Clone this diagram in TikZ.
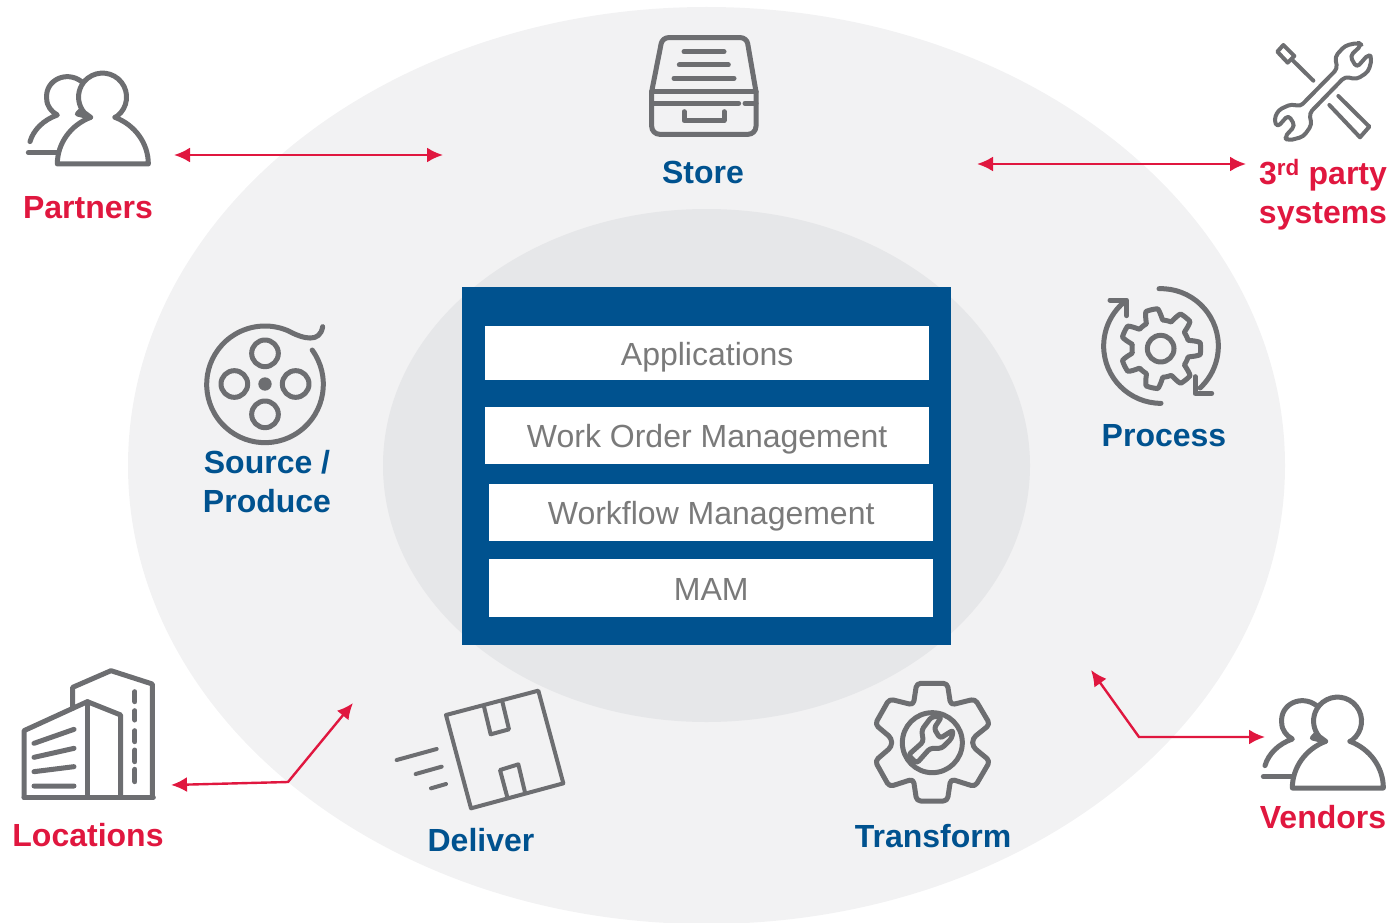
\documentclass[tikz,border=0pt]{standalone}
\usepackage{fontspec}
\setmainfont{Liberation Sans}
\usetikzlibrary{arrows.meta}
\definecolor{outerc}{HTML}{F2F2F3}
\definecolor{innerc}{HTML}{E6E7E9}
\definecolor{bluec}{HTML}{00528F}
\definecolor{redc}{HTML}{E0173F}
\definecolor{iconc}{HTML}{6D6E71}
\definecolor{barc}{HTML}{7A7A7A}
\tikzset{
  zm/.style 2 args={xshift=#1pt,yshift=-#2pt,x=.33333pt,y=-.33333pt},
  icon/.style={draw=iconc,line width=5pt,line cap=round,line join=round},
  thin icon/.style={icon,line width=4pt},
  lab/.style={font=\fontsize{32}{38.5}\selectfont\bfseries,inner sep=0pt,anchor=base,align=center},
  bluelab/.style={lab,text=bluec},
  redlab/.style={lab,text=redc},
  bar/.style={fill=white,inner sep=0pt,minimum width=444pt,text=barc,anchor=north west,
     font=\fontsize{32}{38.5}\selectfont,text height=30pt,text depth=6pt},
  link/.style={draw=redc,line width=2.4pt,{Latex[length=16pt,width=15pt]}-{Latex[length=16pt,width=15pt]}},
  declare function={gearr(\t)=103+17*max(-1,min(1,2.2*cos(7*(\t-257))));}
}
\newcommand{\personicon}[2]{%
 \begin{scope}[zm={#1}{#2}]
  \draw[icon] (345,262) .. controls (405,285) and (445,340) .. (445,402) -- (172,402)
     .. controls (172,340) and (212,285) .. (272,262) -- (232,252) -- (245,238);
  \draw[icon] (345,262) -- (352,258) arc[start angle=52,end angle=-220,radius=72] -- (272,262);
  \draw[icon] (245,155) .. controls (200,120) and (135,150) .. (140,205)
     .. controls (140,230) and (155,245) .. (172,255)
     .. controls (130,270) and (100,300) .. (90,335);
  \draw[icon] (85,368) -- (172,368);
 \end{scope}}
\begin{document}
\begin{tikzpicture}[x=1pt,y=-1pt]
\useasboundingbox (0,0) rectangle (1389,923);
\fill[outerc] (706.5,465.5) ellipse [x radius=578.5,y radius=458.5];
\fill[innerc] (706.5,465.5) ellipse [x radius=323.5,y radius=256.5];
\node[fill=bluec,minimum width=489pt,minimum height=358pt,inner sep=0pt,anchor=north west] (panel) at (462,287) {};
\node[bar,minimum height=54pt] (apps) at (485,326) {Applications};
\node[bar,minimum height=57pt] (wom) at (485,407) {Work Order Management};
\node[bar,minimum height=57pt] (wfm) at (489,484) {Workflow Management};
\node[bar,minimum height=58pt] (mam) at (489,559) {MAM};
% labels
\node[bluelab] (store) at (703,183) {Store};
\node[bluelab] (source) at (267,512) {Source /\\Produce};
\node[bluelab] (process) at (1164,446) {Process};
\node[bluelab] (deliver) at (481,851) {Deliver};
\node[bluelab] (transform) at (933,847) {Transform};
\node[redlab] (partners) at (88,218) {Partners};
\node[redlab] (third) at (1323,223) {3\textsuperscript{rd} party\\systems};
\node[redlab] (locations) at (88,846) {Locations};
\node[redlab] (vendors) at (1323,828) {Vendors};
% connectors
\coordinate (pa) at (174,155); \coordinate (pb) at (443,155);
\coordinate (ta) at (977,164); \coordinate (tb) at (1246,164);
\coordinate (la) at (353,703); \coordinate (lm) at (288,782); \coordinate (lb) at (171,785);
\coordinate (va) at (1091,670); \coordinate (vm) at (1139,737); \coordinate (vb) at (1265,737);
\draw[link] (pa) -- (pb);
\draw[link] (ta) -- (tb);
\draw[link] (la) -- (lm) -- (lb);
\draw[link] (va) -- (vm) -- (vb);
% people
\personicon{0}{30}
\personicon{1235}{654}
% store
\begin{scope}[zm={630}{20}]
 \draw[icon,rounded corners=6pt] (65,215) -- (97,53) -- (350,53) -- (378,215);
 \draw[icon] (65,215) -- (378,215);
 \draw[icon,rounded corners=8pt] (65,215) -- (65,343) -- (378,343) -- (378,215);
 \draw[icon] (65,250) -- (326,250) (345,250) -- (378,250);
 \draw[icon] (162,275) -- (162,302) -- (282,302) -- (282,275);
 \draw[icon] (162,95) -- (282,95) (148,135) -- (295,135) (132,175) -- (312,175);
\end{scope}
% tools
\begin{scope}[zm={1250}{30}]
 \draw[thin icon] (100,45) -- (133,78) -- (113,98) -- (82,65) -- cycle;
 \draw[thin icon] (125,88) -- (190,152);
 \draw[thin icon] (265,198) -- (358,290) -- (330,322) -- (238,225);
 \draw[thin icon,rounded corners=4pt] (150,230) -- (262,116) -- (255,80) -- (285,47) -- (325,38) -- (335,45)
   -- (300,78) -- (320,113) -- (356,72) -- (366,85) -- (355,125) -- (320,148) -- (285,140)
   -- (178,250) -- (185,285) -- (160,320) -- (115,332) -- (103,322) -- (135,287) -- (115,255)
   -- (82,292) -- (72,270) -- (85,240) -- (125,222) -- cycle;
\end{scope}
% process
\begin{scope}[zm={1090}{275}]
 \draw[icon] (213,213) ++(-92:172) arc[start angle=-92,end angle=47,radius=172];
 \draw[icon] (315,305) -- (315,355) -- (365,355);
 \draw[icon] (213,213) ++(90:172) arc[start angle=90,end angle=232,radius=172];
 \draw[icon] (60,75) -- (110,75) -- (110,122);
 \draw[icon] plot[domain=0:360,samples=211] ({212+gearr(\x)*cos(\x)},{221+gearr(\x)*sin(\x)}) -- cycle;
 \draw[icon] (212,221) circle[radius=40];
\end{scope}
% reel
\begin{scope}[zm={195}{315}]
 \draw[icon] (210,208) ++(-36:175) arc[start angle=-36,end angle=293,radius=175]
   .. controls (325,72) and (375,85) .. (383,35);
 \foreach \p in {(210,115),(210,298),(118,207),(302,207)} \draw[icon] \p circle[radius=40];
 \fill[iconc] (210,207) circle[radius=20];
\end{scope}
% building
\begin{scope}[zm={10}{660}]
 \draw[icon] (42,412) -- (42,212) -- (232,125) -- (332,165) -- (332,412);
 \draw[icon] (42,412) -- (430,412);
 \draw[icon] (232,125) -- (232,412);
 \draw[icon] (188,145) -- (188,82) -- (303,32) -- (427,72) -- (427,412);
 \draw[icon] (72,250) -- (192,208) (72,292) -- (192,265) (72,335) -- (192,320) (72,378) -- (192,378);
 \draw[icon] (375,95) -- (375,125) (375,152) -- (375,180) (375,212) -- (375,245) (375,270) -- (375,305) (375,328) -- (375,365);
\end{scope}
% parcel
\begin{scope}[zm={385}{680}]
 \draw[thin icon] (183,105) -- (460,32) -- (535,310) -- (258,385) -- cycle;
 \draw[thin icon] (297,80) -- (317,163) -- (372,148) -- (352,65);
 \draw[thin icon] (367,352) -- (345,270) -- (400,253) -- (420,337);
 \draw[thin icon] (35,240) -- (155,207) (92,282) -- (170,260) (138,325) -- (183,312);
\end{scope}
% transform
\begin{scope}[zm={860}{675}]
 \draw[icon,rounded corners=4pt] (170,25) -- (262,25) -- (272,90) -- (345,72) -- (390,148) -- (338,190) -- (338,215)
   -- (390,258) -- (345,335) -- (272,312) -- (262,378) -- (170,378) -- (160,312) -- (88,335) -- (45,258)
   -- (95,215) -- (95,190) -- (45,148) -- (88,72) -- (160,90) -- cycle;
 \draw[icon] (217,203) circle[radius=90];
 \draw[icon,rounded corners=3pt] (185,165) -- (215,125) -- (245,125) -- (222,160) -- (240,190) -- (280,165)
   -- (275,190) -- (245,220) -- (210,220) -- (170,265) -- (145,240) -- (190,200) -- cycle;
\end{scope}
\end{tikzpicture}
\end{document}
